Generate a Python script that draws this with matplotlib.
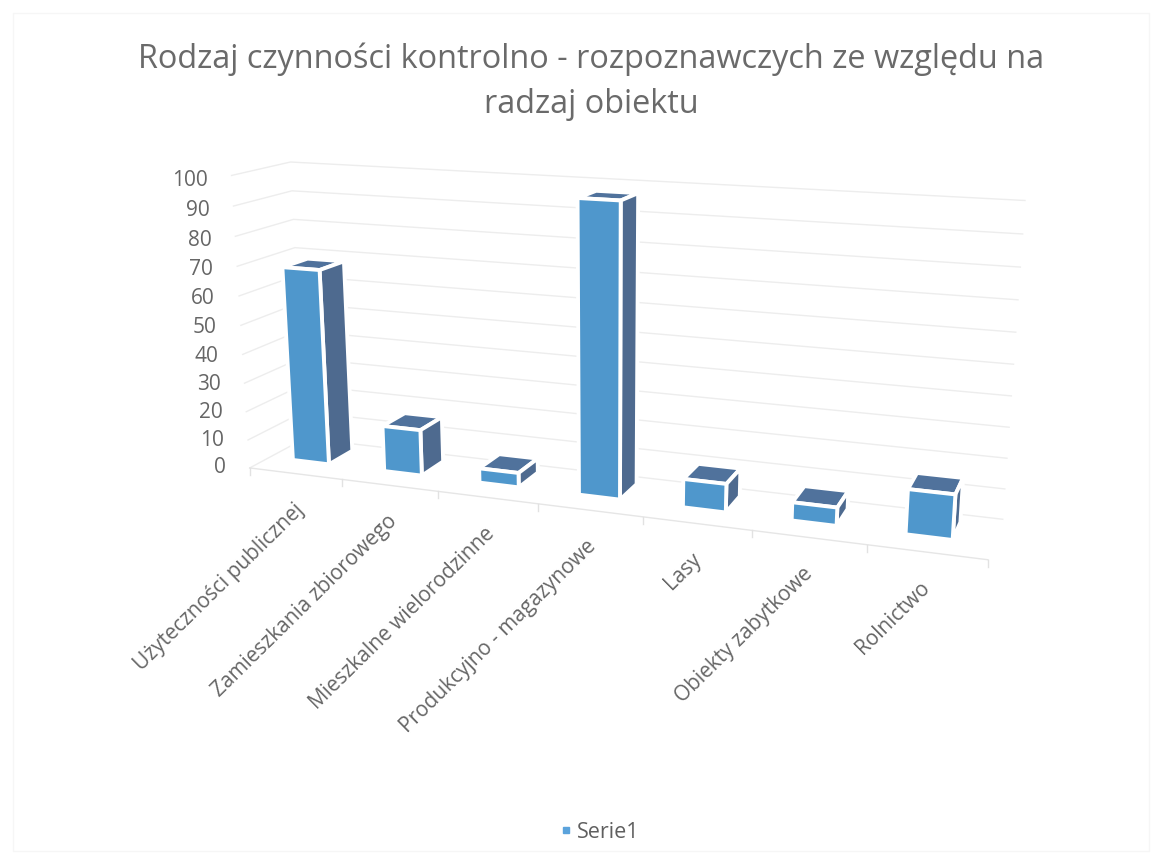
import numpy as np
import matplotlib
matplotlib.use('Agg')
import matplotlib.pyplot as plt
from matplotlib.lines import Line2D
from matplotlib.patches import Polygon, Rectangle

plt.rcParams['font.family'] = ['Open Sans', 'DejaVu Sans']

categories = ['Użyteczności publicznej', 'Zamieszkania zbiorowego', 'Mieszkalne wielorodzinne',
              'Produkcyjno - magazynowe', 'Lasy', 'Obiekty zabytkowe', 'Rolnictwo']
values = [68, 16, 5, 97, 9.5, 6, 14.5]
y_ticks = [0, 10, 20, 30, 40, 50, 60, 70, 80, 90, 100]
title = 'Rodzaj czynności kontrolno - rozpoznawczych ze względu na\nradzaj obiektu'
series_name = 'Serie1'

FRONT = '#4F97CC'
SIDE = '#4E6A8F'
TOP = '#50729C'
GRID = '#EDEDED'
TEXT = '#666666'

# camera fitted on the corners of the chart box: (category, depth, value) -> pixel
corners = [((0, 0, 0), (250, 467)), ((7, 0, 0), (988, 560)), ((3, 0, 0), (537, 505)),
           ((0, 1, 0), (305, 439)), ((7, 1, 0), (1003, 518)),
           ((0, 0, 100), (232, 175)), ((0, 1, 100), (290, 162)), ((7, 1, 100), (1025, 201))]
rows, rhs = [], []
for (c, d, v), (px, py) in corners:
    rows.append([c, d, v, 1, 0, 0, 0, 0, -px * c, -px * d, -px * v])
    rows.append([0, 0, 0, 0, c, d, v, 1, -py * c, -py * d, -py * v])
    rhs += [px, py]
cam = np.append(np.linalg.lstsq(np.array(rows, float), np.array(rhs, float), rcond=None)[0], 1).reshape(3, 4)


def project(c, d, v):
    p = cam @ np.array([c, d, v, 1.0])
    return p[0] / p[2], p[1] / p[2]


fig = plt.figure(figsize=(11.62, 8.64), dpi=100)
ax = fig.add_axes([0, 0, 1, 1])
ax.set_xlim(0, 1162)
ax.set_ylim(864, 0)
ax.axis('off')

# faint frame of the pasted chart
ax.add_patch(Rectangle((13, 13), 1136, 838, fill=False, ec='#F6F6F6', lw=1))

ax.text(591, 82, title, ha='center', va='center', fontsize=23.45, color='#6A6A6A', linespacing=1.49)

# walls and floor
n = len(categories)
for t in y_ticks:
    pts = [project(0, 0, t), project(0, 1, t), project(n, 1, t)]
    ax.plot(*zip(*pts), color=GRID, lw=1.0, zorder=1)
    x, y = project(0, 0, t)
    ax.text(x - 24, y + 0.05 * t, str(t), ha='right', va='center', fontsize=15, color=TEXT)

ax.plot(*zip(project(0, 0, 0), project(n, 0, 0)), color='#E6E6E6', lw=1.0, zorder=1)
for k in range(n + 1):
    x, y = project(k, 0, 0)
    ax.plot([x, x], [y, y + 7], color='#E2E2E2', lw=1.0, zorder=1)

# bars
width = 0.40
d0, d1 = 0.35, 0.80
for k, val in enumerate(values):
    c0 = k + 0.46 - width / 2
    c1 = k + 0.46 + width / 2
    top = [project(c0, d0, val), project(c1, d0, val), project(c1, d1, val), project(c0, d1, val)]
    side = [project(c1, d0, 0), project(c1, d1, 0), project(c1, d1, val), project(c1, d0, val)]
    front = [project(c0, d0, 0), project(c1, d0, 0), project(c1, d0, val), project(c0, d0, val)]
    for poly, col in [(top, TOP), (side, SIDE), (front, FRONT)]:
        ax.add_patch(Polygon(poly, closed=True, fc=col, ec='white', lw=2.8, joinstyle='round', zorder=3))

# rotated category labels
for k, name in enumerate(categories):
    x, y = project(k + 0.5, 0, 0)
    ax.text(x + 6 - k, y + 33, name, ha='right', va='center', rotation=44.5, rotation_mode='anchor',
            fontsize=15, color=TEXT)

handle = Line2D([], [], marker='s', ls='none', color='#5BA3DC', markersize=5, label=series_name)
ax.legend(handles=[handle], loc='center', bbox_to_anchor=(600 / 1162, 1 - 832 / 864), frameon=False,
          fontsize=15.5, labelcolor='#5F5F5F', handlelength=0.5, handletextpad=0.3)

fig.savefig('out.png', dpi=100)
